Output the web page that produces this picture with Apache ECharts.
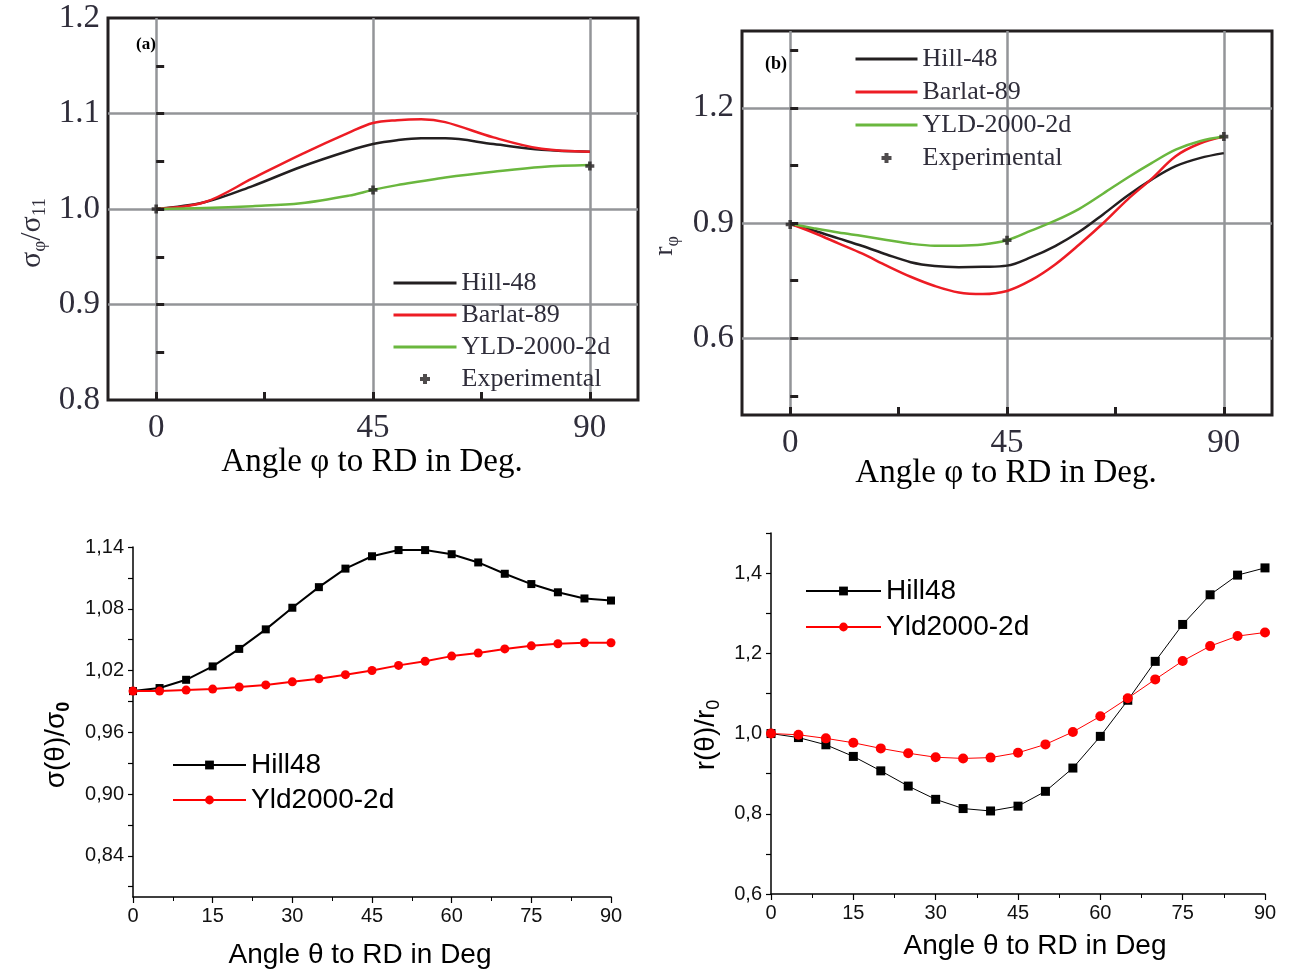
<!DOCTYPE html>
<html><head><meta charset="utf-8">
<script src="https://cdn.jsdelivr.net/npm/echarts@6/dist/echarts.min.js"></script>
<style>html,body{margin:0;padding:0;background:#fff}#c{width:1290px;height:972px}</style>
</head><body><div id="c"></div>
<script>
// ---------- data ----------
// (a) normalized yield stress, smooth model curves
const degA = [0,10,20,30,40,45,50,55,60,70,80,90];
const hillA = [1.000,1.007,1.024,1.044,1.061,1.068,1.072,1.074,1.074,1.068,1.062,1.060];
const barlatA = [1.000,1.007,1.032,1.057,1.080,1.090,1.093,1.094,1.091,1.075,1.063,1.060];
const yldA = [1.000,1.001,1.003,1.006,1.014,1.020,1.025,1.029,1.033,1.039,1.044,1.046];
const expDeg = [0,45,90];
const expA = [1.000,1.020,1.045];
// (b) r-value curves
const degB = [0,5,10,15,20,25,30,35,40,45,50,55,60,65,70,75,80,85,90];
const hillB = [0.898,0.880,0.860,0.840,0.818,0.798,0.788,0.785,0.786,0.789,0.811,0.840,0.877,0.923,0.971,1.013,1.048,1.069,1.082];
const barlatB = [0.898,0.874,0.847,0.820,0.789,0.760,0.736,0.719,0.715,0.723,0.751,0.792,0.844,0.900,0.961,1.015,1.074,1.107,1.125];
const yldB = [0.898,0.886,0.875,0.866,0.856,0.846,0.841,0.841,0.844,0.855,0.880,0.906,0.937,0.977,1.018,1.056,1.091,1.113,1.125];
const expB = [0.896,0.855,1.125];
// (c) sigma(theta)/sigma0
const degC = [0,5,10,15,20,25,30,35,40,45,50,55,60,65,70,75,80,85,90];
const hillC = [1.000,1.003,1.011,1.024,1.041,1.060,1.081,1.101,1.119,1.131,1.137,1.137,1.133,1.125,1.114,1.104,1.096,1.090,1.088];
const yldC = [1.000,1.000,1.001,1.002,1.004,1.006,1.009,1.012,1.016,1.020,1.025,1.029,1.034,1.037,1.041,1.044,1.046,1.047,1.047];
// (d) r(theta)/r0
const hillD = [1.000,0.990,0.972,0.943,0.907,0.869,0.836,0.813,0.807,0.819,0.856,0.914,0.993,1.083,1.180,1.272,1.346,1.395,1.413];
const yldD = [1.000,0.997,0.988,0.977,0.963,0.951,0.941,0.938,0.940,0.952,0.973,1.004,1.043,1.088,1.135,1.181,1.218,1.243,1.252];
// tick values
const xTicksTop = [0,22.5,45,67.5,90];
const xLabelsTop = [0,45,90];
const yTicksA = [0.85,0.9,0.95,1.0,1.05,1.1,1.15];
const yLabelsA = [0.8,0.9,1.0,1.1,1.2];
const yTicksB = [0.45,0.6,0.75,0.9,1.05,1.2,1.35];
const yLabelsB = [0.6,0.9,1.2];
const yLabelsC = [0.84,0.90,0.96,1.02,1.08,1.14];
const yTicksC = [0.81,0.84,0.87,0.90,0.93,0.96,0.99,1.02,1.05,1.08,1.11,1.14];
const yLabelsD = [0.6,0.8,1.0,1.2,1.4];
const yTicksD = [0.6,0.7,0.8,0.9,1.0,1.1,1.2,1.3,1.4,1.5];

// ---------- helpers ----------
const zip = (xs, ys) => xs.map((x, i) => [x, ys[i]]);
const SERIF = 'Liberation Serif';
const SANS = 'Liberation Sans';
const INK = '#231f20';
const TXT = '#2f2d3a';
const GRIDC = '#939598';
const PLUS = 'path://M3,0H7V3H10V7H7V10H3V7H0V3H3Z';

function gridLines(xs, ys) {
  return {
    silent: true, z: 1, symbol: ['none', 'none'], animation: false,
    label: { show: false }, emphasis: { disabled: true },
    lineStyle: { color: GRIDC, width: 2.5, type: 'solid' },
    data: xs.map(v => ({ xAxis: v })).concat(ys.map(v => ({ yAxis: v })))
  };
}
function topX(gi) {
  return {
    type: 'value', gridIndex: gi, min: -10, max: 100, z: 3,
    axisLine: { show: false }, splitLine: { show: false },
    axisTick: { inside: true, length: 8, customValues: xTicksTop, lineStyle: { color: INK, width: 3 } },
    axisLabel: { customValues: xLabelsTop, margin: 12, fontFamily: SERIF, fontSize: 33, color: TXT }
  };
}
function topY(gi, mn, mx, ticks, labels) {
  return {
    type: 'value', gridIndex: gi, min: mn, max: mx, z: 3,
    axisLine: { show: false }, splitLine: { show: false },
    axisTick: { inside: true, length: 8, customValues: ticks, lineStyle: { color: INK, width: 3 } },
    axisLabel: { customValues: labels, margin: 8, fontFamily: SERIF, fontSize: 33, color: TXT,
      formatter: v => v.toFixed(1) }
  };
}
function botX(gi) {
  return {
    type: 'value', gridIndex: gi, min: 0, max: 90, interval: 15,
    axisLine: { show: true, onZero: false, lineStyle: { color: '#000', width: 1.5 } },
    splitLine: { show: false },
    axisTick: { show: true, inside: false, length: 6, lineStyle: { color: '#000', width: 1.2 } },
    minorTick: { show: true, splitNumber: 2, length: 4, lineStyle: { color: '#000', width: 1 } },
    axisLabel: { margin: 9, fontFamily: SANS, fontSize: 20, color: '#111' }
  };
}
function botY(gi, mn, mx, ticks, labels, dec) {
  return {
    type: 'value', gridIndex: gi, min: mn, max: mx,
    axisLine: { show: true, onZero: false, lineStyle: { color: '#000', width: 1.5 } },
    splitLine: { show: false },
    axisTick: { show: true, inside: false, length: 5, customValues: ticks, lineStyle: { color: '#000', width: 1.2 } },
    axisLabel: { customValues: labels, margin: 9, fontFamily: SANS, fontSize: 20, color: '#111',
      formatter: v => v.toFixed(dec).replace('.', ',') }
  };
}
function curve(name, gi, xs, ys, color, extra) {
  return Object.assign({
    name: name, type: 'line', xAxisIndex: gi, yAxisIndex: gi, data: zip(xs, ys),
    smooth: 0.35, symbol: 'none', color: color, z: 2,
    lineStyle: { color: color, width: 2.5 }, animation: false
  }, extra || {});
}
function marked(name, gi, xs, ys, color, sym, size, lw) {
  return {
    name: name, type: 'line', xAxisIndex: gi, yAxisIndex: gi, data: zip(xs, ys),
    symbol: sym, symbolSize: size, showAllSymbol: true, color: color, z: 2,
    itemStyle: { color: color }, lineStyle: { color: color, width: lw }, animation: false
  };
}
function exper(name, gi, ys) {
  return {
    name: name, type: 'scatter', xAxisIndex: gi, yAxisIndex: gi, data: zip(expDeg, ys),
    symbol: PLUS, symbolSize: 9, color: INK, itemStyle: { color: INK }, z: 4, animation: false
  };
}
const fmt = n => n.split(':')[1];
function legendTop(prefix, left, top, w, gap) {
  const lines = ['Hill-48', 'Barlat-89', 'YLD-2000-2d'].map(s => ({
    name: prefix + ':' + s, itemStyle: { opacity: 0 }
  }));
  lines.push({ name: prefix + ':Experimental' });
  return {
    data: lines,
    formatter: fmt, left: left, top: top, orient: 'vertical', selectedMode: false,
    itemWidth: w, itemHeight: 10, itemGap: gap, padding: 0,
    lineStyle: { width: 3 },
    textStyle: { fontFamily: SERIF, fontSize: 26, lineHeight: 26, color: TXT }
  };
}
function legendBot(prefix, left, top, w, gap) {
  return {
    data: ['Hill48', 'Yld2000-2d'].map(s => prefix + ':' + s),
    formatter: fmt, left: left, top: top, orient: 'vertical', selectedMode: false,
    itemWidth: w, itemHeight: 11, itemGap: gap, padding: 0,
    textStyle: { fontFamily: SANS, fontSize: 28, lineHeight: 28, color: '#000' }
  };
}
function txt(x, y, text, font, rot, rich) {
  const st = { text: text, font: font, fill: '#000', align: 'center', verticalAlign: 'middle' };
  if (rich) st.rich = rich;
  return { type: 'text', x: x, y: y, rotation: rot || 0, silent: true, style: st, z: 10 };
}

const chart = echarts.init(document.getElementById('c'), null, { renderer: 'canvas' });
const option = {
  backgroundColor: '#fff',
  animation: false,
  grid: [
    { left: 108, top: 18, width: 530, height: 382, show: true, borderColor: INK, borderWidth: 3, backgroundColor: 'transparent' },
    { left: 742, top: 31, width: 530, height: 384, show: true, borderColor: INK, borderWidth: 3, backgroundColor: 'transparent' },
    { left: 133, top: 547, width: 478, height: 350 },
    { left: 771, top: 533, width: 494, height: 361 }
  ],
  xAxis: [topX(0), topX(1), botX(2), botX(3)],
  yAxis: [
    topY(0, 0.8, 1.2, yTicksA, yLabelsA),
    topY(1, 0.4, 1.4, yTicksB, yLabelsB),
    botY(2, 0.80, 1.14, yTicksC, yLabelsC, 2),
    botY(3, 0.6, 1.5, yTicksD, yLabelsD, 1)
  ],
  legend: [
    legendTop('a', 392, 270, 63, 6),
    legendTop('b', 854, 46, 62, 7),
    legendBot('c', 172, 751, 73, 7),
    legendBot('d', 805, 577, 75, 8)
  ],
  series: [
    curve('a:Hill-48', 0, degA, hillA, INK, { markLine: gridLines(xLabelsTop, [0.9, 1.0, 1.1]) }),
    curve('a:Barlat-89', 0, degA, barlatA, '#ed1c24'),
    curve('a:YLD-2000-2d', 0, degA, yldA, '#6ab73e'),
    exper('a:Experimental', 0, expA),
    curve('b:Hill-48', 1, degB, hillB, INK, { markLine: gridLines(xLabelsTop, [0.6, 0.9, 1.2]) }),
    curve('b:Barlat-89', 1, degB, barlatB, '#ed1c24'),
    curve('b:YLD-2000-2d', 1, degB, yldB, '#6ab73e'),
    exper('b:Experimental', 1, expB),
    marked('c:Hill48', 2, degC, hillC, '#000', 'rect', 8, 2),
    marked('c:Yld2000-2d', 2, degC, yldC, '#ff0000', 'circle', 9, 2),
    marked('d:Hill48', 3, degC, hillD, '#000', 'rect', 9, 1),
    marked('d:Yld2000-2d', 3, degC, yldD, '#ff0000', 'circle', 10, 1)
  ],
  graphic: [
    txt(146, 45, '(a)', 'bold 17px "Liberation Serif"'),
    txt(776, 64, '(b)', 'bold 18px "Liberation Serif"'),
    txt(372, 462, 'Angle φ to RD in Deg.', '33px "Liberation Serif"'),
    txt(1006, 473, 'Angle φ to RD in Deg.', '33px "Liberation Serif"'),
    txt(32, 233, '{m|σ}{s|φ}{m|/σ}{s|11}', '30px "Liberation Serif"', Math.PI / 2, {
      m: { fontFamily: SERIF, fontSize: 30, lineHeight: 36, verticalAlign: 'middle', fill: TXT },
      s: { fontFamily: SERIF, fontSize: 19, lineHeight: 36, verticalAlign: 'bottom', fill: TXT }
    }),
    txt(665, 246, '{m|r}{s|φ}', '30px "Liberation Serif"', Math.PI / 2, {
      m: { fontFamily: SERIF, fontSize: 28, lineHeight: 34, verticalAlign: 'middle', fill: TXT },
      s: { fontFamily: SERIF, fontSize: 18, lineHeight: 34, verticalAlign: 'bottom', fill: TXT }
    }),
    txt(360, 955, 'Angle θ to RD in Deg', '28px "Liberation Sans"'),
    txt(1035, 946, 'Angle θ to RD in Deg', '28px "Liberation Sans"'),
    txt(56, 745, '{m|σ(θ)/σ}{s|0}', '28px "Liberation Sans"', Math.PI / 2, {
      m: { fontFamily: SANS, fontSize: 28, lineHeight: 34, verticalAlign: 'middle', fill: '#000' },
      s: { fontFamily: SANS, fontSize: 18, fontWeight: 'bold', lineHeight: 34, verticalAlign: 'bottom', fill: '#000' }
    }),
    txt(706, 735, '{m|r(θ)/r}{s|0}', '28px "Liberation Sans"', Math.PI / 2, {
      m: { fontFamily: SANS, fontSize: 28, lineHeight: 34, verticalAlign: 'middle', fill: '#000' },
      s: { fontFamily: SANS, fontSize: 18, lineHeight: 34, verticalAlign: 'bottom', fill: '#000' }
    })
  ]
};
chart.setOption(option);
</script>
</body></html>
